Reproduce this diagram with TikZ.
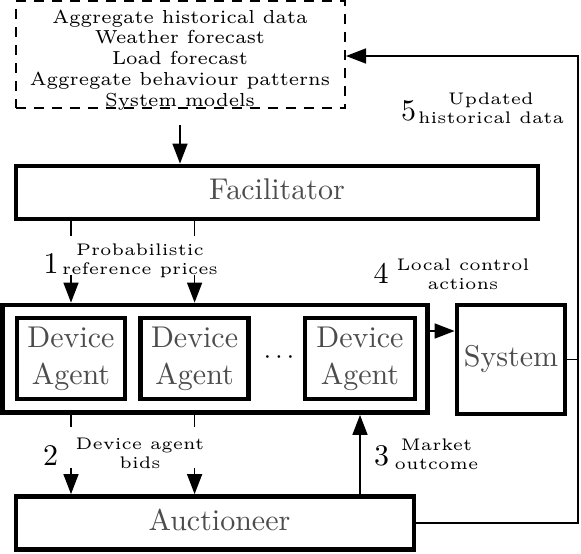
\documentclass[tikz,border=0pt]{standalone}
\usepackage{graphicx}
\usetikzlibrary{arrows.meta}
\newcommand{\mybig}[1]{\scalebox{3}{\fontsize{10}{12.3}\selectfont\begin{tabular}{@{}c@{}}#1\end{tabular}}}
\newcommand{\mylbl}[1]{\scalebox{3.36}{\fontsize{5}{5.65}\selectfont\begin{tabular}[b]{@{}c@{}}#1\end{tabular}}}
\newcommand{\mynum}[1]{\scalebox{3}{\fontsize{10}{12}\selectfont #1}}
\newcommand{\mydash}[1]{\scalebox{3.14}{\fontsize{6}{6.6}\selectfont\begin{tabular}[b]{@{}c@{}}#1\end{tabular}}}
\begin{document}
\begin{tikzpicture}[x=1pt,y=-1pt,
  box/.style={draw, line width=4.8pt, inner sep=0pt, text=black!70},
  dbox/.style={draw, line width=2pt, dash pattern=on 10pt off 8pt, inner sep=0pt},
  arr/.style={line width=1.5pt, -{Triangle[length=20pt,width=15pt]}},
  ln/.style={line width=1.5pt},
  lbl/.style={inner sep=0pt, anchor=base},
  num/.style={inner sep=0pt, anchor=base},
]
\useasboundingbox (0,0) rectangle (581,554);
% boxes
\node[dbox, minimum width=329.5pt, minimum height=107pt] (data) at (180.25,54.5) {};
\node[lbl] (datatxt) at (180,106) {\mydash{Aggregate historical data\\Weather forecast\\Load forecast\\Aggregate behaviour patterns\\System models}};
\node[box, minimum width=522pt, minimum height=53pt] (fac) at (277,192.5) {\mybig{Facilitator}};
\node[box, minimum width=425pt, minimum height=107.5pt] (agents) at (215,358.75) {};
\node[box, minimum width=108pt, minimum height=81pt] (da1) at (71,358.5) {\mybig{Device\\Agent}};
\node[box, minimum width=108pt, minimum height=81pt] (da2) at (194.6,358.5) {\mybig{Device\\Agent}};
\node[box, minimum width=110pt, minimum height=81pt] (da3) at (360,358.5) {\mybig{Device\\Agent}};
\node[inner sep=0pt] (dots) at (279,358) {\scalebox{2.6}{$\cdots$}};
\node[box, minimum width=108pt, minimum height=109pt] (sys) at (511,359.5) {\mybig{System}};
\node[box, minimum width=398pt, minimum height=53pt] (auc) at (215,523) {\mybig{\hspace*{3pt}Auctioneer}};
% helper coordinates
\coordinate (g1a) at (0,236);
\coordinate (g1b) at (0,275);
\coordinate (g2a) at (0,427);
\coordinate (g2b) at (0,468);
\coordinate (y4) at (0,331);
\coordinate (rt) at (578,56);
% connectors
\draw[arr] ([yshift=-16pt]data.south -| 180,0) -- (fac.north -| 180,0);
\draw[ln] (fac.south -| da1) -- (g1a -| da1);
\draw[arr] (g1b -| da1) -- (agents.north -| da1);
\draw[ln] (fac.south -| da2) -- (g1a -| da2);
\draw[arr] (g1b -| da2) -- (agents.north -| da2);
\draw[ln] (agents.south -| da1) -- (g2a -| da1);
\draw[arr] (g2b -| da1) -- (auc.north -| da1);
\draw[ln] (agents.south -| da2) -- (g2a -| da2);
\draw[arr] (g2b -| da2) -- (auc.north -| da2);
\draw[arr] (auc.north -| da3) -- (agents.south -| da3);
\draw[arr] (agents.east |- y4) -- (sys.west |- y4);
\draw[ln] (sys.east) -- (sys.east -| rt);
\draw[arr] (auc.east) -| (rt) -- (data.east |- rt);
% labels
\node[num] (n1) at (51,273) {\mynum{1}};
\node[lbl] (l1) at (140,274) {\mylbl{Probabilistic\\reference prices}};
\node[num] (n2) at (50.5,465) {\mynum{2}};
\node[lbl] (l2) at (140,468) {\mylbl{Device agent\\bids}};
\node[num] (n3) at (381.5,465) {\mynum{3}};
\node[lbl] (l3) at (436.5,469) {\mylbl{Market\\outcome}};
\node[num] (n4) at (381,283) {\mynum{4}};
\node[lbl] (l4) at (463,289) {\mylbl{Local control\\actions}};
\node[num] (n5) at (408.5,120) {\mynum{5}};
\node[lbl] (l5) at (491,123) {\mylbl{Updated\\historical data}};
\end{tikzpicture}
\end{document}
